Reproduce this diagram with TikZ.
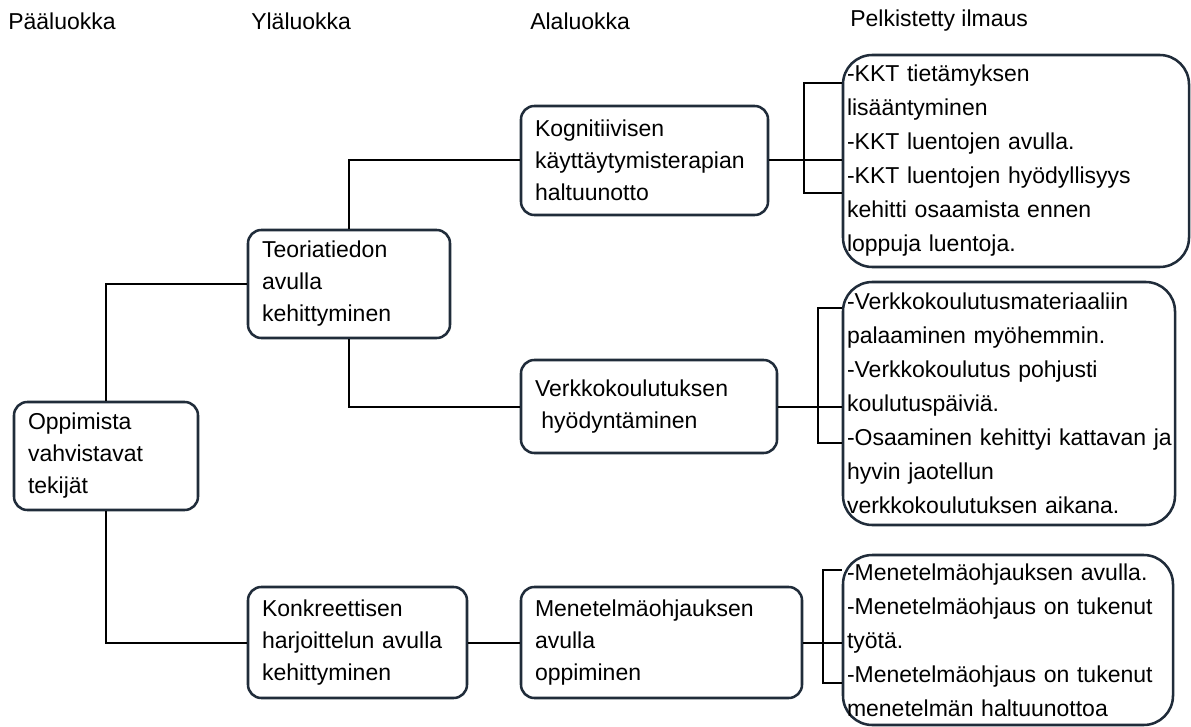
\documentclass[tikz,border=0pt]{standalone}
\usepackage{fontspec}
\setmainfont{Liberation Sans}
\definecolor{boxline}{RGB}{32,44,58}
\tikzset{
  box/.style={draw=boxline, line width=1.9pt, rounded corners=10pt, fill=white,
    align=left, inner xsep=10.5pt, inner ysep=0pt,
    font=\fontsize{17.25pt}{24pt}\selectfont},
  bigbox/.style={draw=boxline, line width=1.9pt, rounded corners=22pt, fill=white,
    align=left, inner xsep=3pt, inner ysep=0pt,
    font=\fontsize{17.25pt}{25.5pt}\selectfont},
  conn/.style={line width=1.5pt, black},
  head/.style={anchor=west, inner sep=0pt, font=\fontsize{17.25pt}{20pt}\selectfont}
}
\begin{document}
\begin{tikzpicture}[x=0.75pt,y=-0.75pt]
\useasboundingbox (0,0) rectangle (1191,727);

% headers
\node[head] (h1) at (8,21) {Pääluokka};
\node[head] (h2) at (251,21) {Yläluokka};
\node[head] (h3) at (530,21) {Alaluokka};
\node[head] (h4) at (850,21) {Pelkistetty ilmaus};

% level boxes
\node[box, minimum width=138pt, minimum height=81pt, text width=117pt] (O) at (106,456)
  {Oppimista\\vahvistavat\\tekijät};
\node[box, minimum width=151.5pt, minimum height=81pt, text width=130.5pt] (T) at (349,284)
  {Teoriatiedon\\avulla\\kehittyminen};
\node[box, minimum width=164.25pt, minimum height=83.25pt, text width=143.25pt] (K) at (357.5,642.5)
  {Konkreettisen\\harjoittelun avulla\\kehittyminen};
\node[box, minimum width=185.25pt, minimum height=81.75pt, text width=164.25pt] (G) at (644.5,160.5)
  {Kognitiivisen\\käyttäytymisterapian\\haltuunotto};
\node[box, minimum width=192pt, minimum height=69.75pt, text width=171pt] (V) at (649,406.5)
  {Verkkokoulutuksen\\\hspace*{0.28em}hyödyntäminen};
\node[box, minimum width=210.75pt, minimum height=83.25pt, text width=189.75pt] (M) at (661.5,642.5)
  {Menetelmäohjauksen\\avulla\\oppiminen};

% right boxes
\node[bigbox, minimum width=259.5pt, minimum height=159pt, text width=253.5pt] (R1) at (1016,161)
  {-KKT tietämyksen\\lisääntyminen\\-KKT luentojen avulla.\\-KKT luentojen hyödyllisyys\\kehitti osaamista ennen\\loppuja luentoja.};
\node[bigbox, minimum width=249pt, minimum height=182.25pt, text width=243pt] (R2) at (1009,403.5)
  {\mbox{-Verkkokoulutusmateriaaliin}\\\mbox{palaaminen myöhemmin.}\\\mbox{-Verkkokoulutus pohjusti}\\\mbox{koulutuspäiviä.}\\\mbox{-Osaaminen kehittyi kattavan ja}\\\mbox{hyvin jaotellun}\\\mbox{verkkokoulutuksen aikana.}};
\node[bigbox, minimum width=247.5pt, minimum height=127.5pt, text width=241.5pt] (R3) at (1008,640)
  {\mbox{-Menetelmäohjauksen avulla.}\\\mbox{-Menetelmäohjaus on tukenut}\\\mbox{työtä.}\\\mbox{-Menetelmäohjaus on tukenut}\\\mbox{menetelmän haltuunottoa}};

% tree connectors
\draw[conn] (O.north) |- (T.west);
\draw[conn] (O.south) |- (K.west);
\draw[conn] (T.north) |- (G.west);
\draw[conn] (T.south) |- (V.west);
\draw[conn] (K.east) -- (M.west);

% connectors to right boxes
\draw[conn] (G.east) -- (G.east -| R1.west);
\draw[conn] (V.east) -- (V.east -| R2.west);
\draw[conn] (M.east) -- (M.east -| R3.west);

% brackets
\coordinate (b1a) at (804,83);  \coordinate (b1b) at (804,193);
\coordinate (b2a) at (818,308); \coordinate (b2b) at (818,443);
\coordinate (b3a) at (823,570); \coordinate (b3b) at (823,683);
\draw[conn] (b1a -| R1.west) -- (b1a) -- (b1b) -- (b1b -| R1.west);
\draw[conn] (b2a -| R2.west) -- (b2a) -- (b2b) -- (b2b -| R2.west);
\draw[conn] (b3a -| R3.west) -- (b3a) -- (b3b) -- (b3b -| R3.west);
\end{tikzpicture}
\end{document}
